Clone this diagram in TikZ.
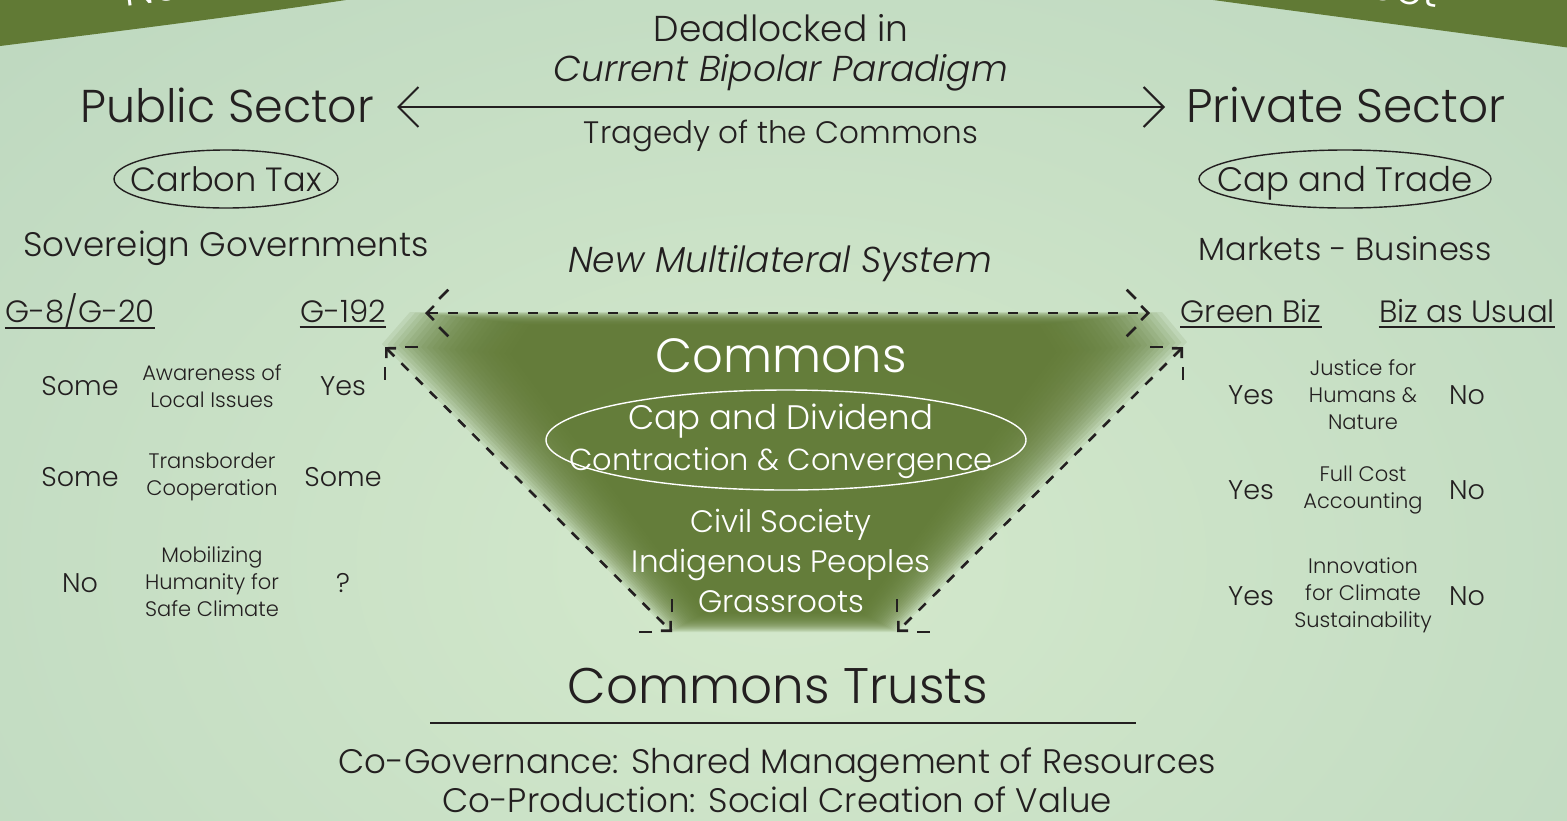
\documentclass[tikz,border=0pt]{standalone}
\usepackage{fontspec}
\setmainfont{Poppins}[UprightFont=* Light, ItalicFont=* Light Italic]
\usetikzlibrary{arrows.meta,shapes.geometric,calc}

\definecolor{bgpale}{HTML}{D4E9CC}
\definecolor{bgsage}{HTML}{B2CFB9}
\definecolor{leaf}{HTML}{617A35}
\definecolor{ink}{HTML}{231F20}

% commons funnel, relative to its centre
\def\commonsshape{(-371,-128) -- (381,-128) -- (406,-98) -- (116,192) -- (-111,192) -- (-399,-96) -- cycle}
% two loose dashes round a tip: #1 tip, #2 direction back along the line
\newcommand\dashbarbs[2]{%
  \draw[dashbarb] ($(#1)+({#2+45}:20)$) -- ($(#1)+({#2+45}:33)$);
  \draw[dashbarb] ($(#1)+({#2-45}:20)$) -- ($(#1)+({#2-45}:33)$);}

\begin{document}
\begin{tikzpicture}[x=0.5pt,y=-0.5pt,
    big/.style={font=\fontsize{23}{27}\selectfont, text=ink},
    mid/.style={font=\fontsize{17}{20}\selectfont, text=ink},
    head/.style={font=\fontsize{15.4}{18}\selectfont, text=ink, inner sep=0},
    cell/.style={font=\fontsize{13.5}{16}\selectfont, text=ink},
    note/.style={font=\fontsize{10.5}{13.5}\selectfont, text=ink, align=center, inner sep=0},
    uline/.style={ink, line width=1pt},
    oval/.style={ink, line width=0.7pt},
    dasharrow/.style={ink, line width=1.3pt, dash pattern=on 5pt off 5pt,
        {Straight Barb[length=3.5pt,width=7pt]}-{Straight Barb[length=3.5pt,width=7pt]}},
    dashbarb/.style={ink, line width=1.3pt}]
    \useasboundingbox (0,0) rectangle (1567,820);
    % background
    \begin{scope}
    \clip (0,0) rectangle (1567,820);
    \shade[inner color=bgpale, outer color=bgsage] (781,560) ellipse [x radius=850pt, y radius=600pt];
    \fill[leaf] (0,-4) -- (0,46) .. controls (120,31) and (250,15) .. (372,-4) -- cycle;
    \fill[leaf] (1184,-4) .. controls (1300,12) and (1440,30) .. (1571,48) -- (1571,-4) -- cycle;
    \end{scope}
    \node[anchor=base west, rotate=7, text=white, font=\fontsize{22}{24}\selectfont] (bannerl) at (118,7) {Na};
    \node[anchor=base east, rotate=-8, text=white, font=\fontsize{22}{24}\selectfont] (bannerr) at (1444,9) {ect};

    % commons funnel, soft edges
    \foreach \k in {0,...,23} {
        \pgfmathsetmacro\sx{1-0.014*\k}
        \pgfmathsetmacro\sy{1-0.0045*\k}
        \fill[leaf, opacity=0.11, shift={(781,440)}, xscale=\sx, yscale=\sy] \commonsshape;
    }

    % top row
    \node[mid, font=\fontsize{18}{20}\selectfont] (deadlock) at (781,28) {Deadlocked in};
    \node[mid, font=\fontsize{18}{20}\selectfont] (paradigm) at (781,73) {\itshape Current Bipolar Paradigm};
    \node[mid, font=\fontsize{15.5}{19}\selectfont] (tragedy) at (781,136) {Tragedy of the Commons};
    \node[big] (public) at (227,105) {Public Sector};
    \node[big, font=\fontsize{23.5}{27}\selectfont] (private) at (1346,105) {Private Sector};
    \coordinate (bipl) at (397,107);
    \coordinate (bipr) at (1165,107);
    \draw[ink, line width=1pt, {Straight Barb[length=10pt,width=20pt]}-{Straight Barb[length=10pt,width=20pt]}] (bipl) -- (bipr);

    \node[mid, font=\fontsize{16.8}{20}\selectfont] (carbon) at (226,179) {Carbon Tax};
    \draw[oval] (226,179) ellipse [x radius=112, y radius=29];
    \node[mid, font=\fontsize{17}{20}\selectfont] (captrade) at (1345,183) {Cap and Trade};
    \draw[oval] (1345,179) ellipse [x radius=146, y radius=29];
    \node[mid] (sovereign) at (226,248) {Sovereign Governments};
    \node[mid, font=\fontsize{16}{20}\selectfont] (markets) at (1345,249) {Markets - Business};
    \node[mid, font=\fontsize{18}{20}\selectfont] (multilateral) at (780,264) {\itshape New Multilateral System};

    % column heads
    \node[head] (g8) at (80,311) {G-8/G-20};
    \node[head] (g192) at (343,311) {G-192};
    \node[head] (greenbiz) at (1251,311) {Green Biz};
    \node[head] (bizusual) at (1467,311) {Biz as Usual};
    \foreach \n in {g8,g192,greenbiz,bizusual}
        \draw[uline] ($(\n.base west)+(0,5)$) -- ($(\n.base east)+(0,5)$);

    % public side
    \node[cell] (pub1a) at (80,386) {Some};
    \node[note] (pub1b) at (212,386) {Awareness of\\Local Issues};
    \node[cell] (pub1c) at (343,386) {Yes};
    \node[cell] (pub2a) at (80,477) {Some};
    \node[note] (pub2b) at (212,477) {Transborder\\Cooperation};
    \node[cell] (pub2c) at (343,477) {Some};
    \node[cell] (pub3a) at (80,583) {No};
    \node[note] (pub3b) at (212,582) {Mobilizing\\Humanity for\\Safe Climate};
    \node[cell] (pub3c) at (343,583) {?};

    % private side
    \node[cell] (prv1a) at (1251,395) {Yes};
    \node[note] (prv1b) at (1363,395) {Justice for\\Humans \&\\Nature};
    \node[cell] (prv1c) at (1467,395) {No};
    \node[cell] (prv2a) at (1251,490) {Yes};
    \node[note] (prv2b) at (1363,490) {Full Cost\\Accounting};
    \node[cell] (prv2c) at (1467,490) {No};
    \node[cell] (prv3a) at (1251,596) {Yes};
    \node[note] (prv3b) at (1363,595) {Innovation\\for Climate\\Sustainability};
    \node[cell] (prv3c) at (1467,596) {No};

    % commons
    \node[big, text=white, font=\fontsize{24}{28}\selectfont] (commons) at (781,356) {Commons};
    \node[mid, text=white, align=center, font=\fontsize{17}{20.5}\selectfont] (dividend) at (781,441) {Cap and Dividend\\\fontsize{15.2}{20.5}\selectfont Contraction \& Convergence};
    \draw[white, line width=0.7pt] (786,440) ellipse [x radius=240, y radius=50];
    \node[mid, text=white, align=center, font=\fontsize{15.5}{20}\selectfont] (civil) at (781,561) {Civil Society\\Indigenous Peoples\\Grassroots};

    % dashed arrows round the funnel
    \coordinate (tl) at (425,313);
    \coordinate (tr) at (1150,313);
    \coordinate (lp) at (385,347);
    \coordinate (bl) at (672,632);
    \coordinate (rp) at (1183,347);
    \coordinate (br) at (897,632);
    \draw[dasharrow] (tl) -- (tr);
    \draw[dasharrow] (lp) -- (bl);
    \draw[dasharrow] (rp) -- (br);
    \dashbarbs{tl}{0}
    \dashbarbs{tr}{180}
    \dashbarbs{lp}{45}
    \dashbarbs{bl}{225}
    \dashbarbs{rp}{135}
    \dashbarbs{br}{315}

    % trusts
    \node[big, font=\fontsize{25}{29}\selectfont] (trusts) at (778,686) {Commons Trusts};
    \coordinate (rulel) at (430,723);
    \coordinate (ruler) at (1136,723);
    \draw[ink, line width=1pt] (rulel) -- (ruler);
    \node[mid, align=center, font=\fontsize{17}{19.5}\selectfont] (cogov) at (777,780) {Co-Governance: Shared Management of Resources\\Co-Production: Social Creation of Value};
\end{tikzpicture}
\end{document}
